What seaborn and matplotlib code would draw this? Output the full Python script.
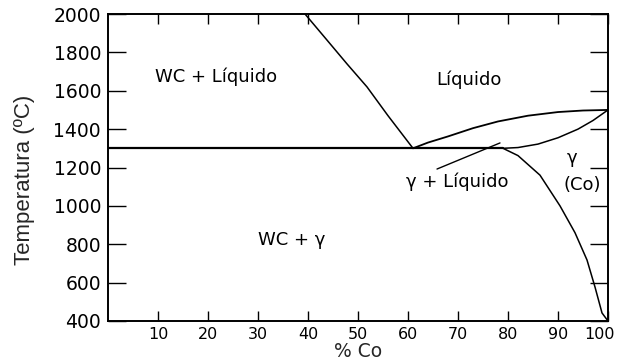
import matplotlib
matplotlib.use("Agg")
import matplotlib.pyplot as plt
import matplotlib.transforms as mtransforms
import seaborn as sns

# ---- data ----
x_ticks = [10, 20, 30, 40, 50, 60, 70, 80, 90, 100]
y_ticks = [400, 600, 800, 1000, 1200, 1400, 1600, 1800, 2000]

# WC liquidus
wc_liq_x = [39.4, 43.8, 47.8, 51.8, 56.0, 61.0]
wc_liq_T = [2000, 1864, 1740, 1620, 1470, 1300]

# eutectic isotherm
eut_x = [0, 79]
eut_T = [1300, 1300]

# Co-rich liquidus
co_liq_x = [61, 64, 68, 73, 78, 84, 90, 95, 100]
co_liq_T = [1300, 1330, 1362, 1405, 1440, 1470, 1489, 1497, 1500]

# solidus
sol_x = [79, 82, 86, 90, 94, 97, 100]
sol_T = [1300, 1304, 1322, 1355, 1400, 1445, 1500]

# solvus
solv_x = [79, 82, 86.4, 90.4, 93.4, 95.8, 97.4, 98.8, 100]
solv_T = [1300, 1262, 1160, 1000, 860, 718, 577, 442, 400]

# pointer line for the gamma + liquid label
tie_x = [65.8, 78.4]
tie_T = [1192, 1328]

labels = ["WC + Líquido", "Líquido", "γ + Líquido", "γ", "(Co)", "WC + γ"]
label_x = [21.6, 72.2, 69.8, 92.8, 94.8, 36.8]
label_T = [1672, 1656, 1124, 1250, 1109, 822]

# ---- plotting ----
sns.set_style("ticks")
plt.rcParams["font.family"] = ["DejaVu Sans"]

fig = plt.figure(figsize=(6.18, 3.60), dpi=100)
ax = fig.add_axes([108 / 618, 1 - 321 / 360, 500 / 618, 307 / 360])

for xs, ts, lw in [(wc_liq_x, wc_liq_T, 1.1), (eut_x, eut_T, 1.6),
                   (co_liq_x, co_liq_T, 1.3), (sol_x, sol_T, 1.1),
                   (solv_x, solv_T, 1.1), (tie_x, tie_T, 1.0)]:
    sns.lineplot(x=xs, y=ts, ax=ax, color="black", linewidth=lw,
                 sort=False, estimator=None)

for s, xx, tt in zip(labels, label_x, label_T):
    ax.text(xx, tt, s, ha="center", va="center", fontsize=13, color="black")

ax.set_xlim(0, 100)
ax.set_ylim(400, 2000)
ax.set_xticks(x_ticks)
ax.set_xticklabels([str(v) for v in x_ticks], fontsize=11.5)
ax.set_yticks(y_ticks)
ax.set_yticklabels([str(v) for v in y_ticks], fontsize=13.5)

for sp in ax.spines.values():
    sp.set_visible(True)
    sp.set_linewidth(1.4)
    sp.set_color("black")

ax.tick_params(axis="x", which="both", direction="in", length=7, width=1.0,
               top=True, bottom=True, pad=4, colors="black")
ax.tick_params(axis="y", which="both", direction="in", length=13, width=1.0,
               left=True, right=True, pad=5, colors="black")

# keep the "100" label inside the figure (after tick_params, which resets transforms)
last = ax.get_xticklabels()[-1]
last.set_transform(last.get_transform() +
                   mtransforms.ScaledTranslation(-9 / 100, 0, fig.dpi_scale_trans))

ax.set_xlabel("% Co", fontsize=13.5, labelpad=0)
ax.set_ylabel("Temperatura (ºC)", fontsize=16, family=["Liberation Sans"])
ax.yaxis.set_label_coords(-0.146, 0.46)

fig.savefig("out.png", dpi=100)
